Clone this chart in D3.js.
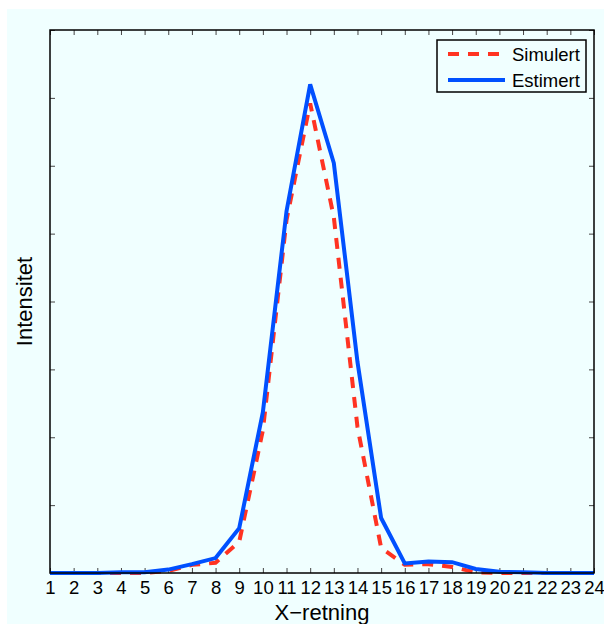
<!DOCTYPE html>
<html>
<head>
<meta charset="utf-8">
<script src="https://cdn.jsdelivr.net/npm/d3@7"></script>
<style>
  html, body { margin: 0; padding: 0; background: #ffffff; }
  svg { display: block; }
  text { font-family: "Liberation Sans", Arial, Helvetica, sans-serif; fill: #000; }
</style>
</head>
<body>
<svg id="chart" width="604" height="624"></svg>
<script>
// ---- data ----
const xValues = [1,2,3,4,5,6,7,8,9,10,11,12,13,14,15,16,17,18,19,20,21,22,23,24];
const simulert = [0,0,0,0,0,0.03,0.12,0.15,0.46,2.1,5.2,6.92,5.24,2.15,0.37,0.12,0.13,0.09,0.01,0,0,0,0,0];
const estimert = [0,0,0,0.01,0.01,0.05,0.13,0.22,0.66,2.37,5.33,7.2,6.04,3.11,0.81,0.14,0.17,0.16,0.06,0.02,0.01,0,0,0];
const xTickLabels = ["1","2","3","4","5","6","7","8","9","10","11","12","13","14","15","16","17","18","19","20","21","22","23","24"];
const yTicks = [0,1,2,3,4,5,6,7,8];
const seriesNames = ["Simulert","Estimert"];
const xLabel = "X\u2212retning";
const yLabel = "Intensitet";

// ---- layout ----
const W = 604, H = 624;
const plot = {left: 50, right: 594, top: 30, bottom: 573};
const svg = d3.select("#chart");

svg.append("rect").attr("x", 7).attr("y", 9).attr("width", W - 7).attr("height", H - 9).attr("fill", "#f0ffff");

const x = d3.scaleLinear().domain([1, 24]).range([plot.left, plot.right]);
const y = d3.scaleLinear().domain([0, 8]).range([plot.bottom, plot.top]);

const tickLen = 5;
const tickColor = "#444";

// bottom axis with labels (ticks inward)
const gb = svg.append("g").attr("transform", `translate(0,${plot.bottom})`)
  .call(d3.axisBottom(x).tickValues(xValues).tickFormat((d, i) => xTickLabels[i]).tickSizeInner(-tickLen).tickSizeOuter(0).tickPadding(10));
gb.select(".domain").remove();
gb.selectAll(".tick line").attr("stroke", tickColor).attr("stroke-width", 1);
gb.selectAll(".tick text").attr("font-size", 18.5).attr("dy", "0.62em").attr("y", 10);

// top axis ticks
const gt = svg.append("g").attr("transform", `translate(0,${plot.top})`)
  .call(d3.axisTop(x).tickValues(xValues).tickFormat("").tickSizeInner(-tickLen).tickSizeOuter(0));
gt.select(".domain").remove();
gt.selectAll(".tick line").attr("stroke", tickColor).attr("stroke-width", 1);

// left/right axis ticks (no labels)
const gl = svg.append("g").attr("transform", `translate(${plot.left},0)`)
  .call(d3.axisLeft(y).tickValues(yTicks).tickFormat("").tickSizeInner(-tickLen).tickSizeOuter(0));
gl.select(".domain").remove();
gl.selectAll(".tick line").attr("stroke", tickColor).attr("stroke-width", 1);
const gr = svg.append("g").attr("transform", `translate(${plot.right},0)`)
  .call(d3.axisRight(y).tickValues(yTicks).tickFormat("").tickSizeInner(-tickLen).tickSizeOuter(0));
gr.select(".domain").remove();
gr.selectAll(".tick line").attr("stroke", tickColor).attr("stroke-width", 1);

// lines
const line = d3.line().x((d, i) => x(xValues[i])).y(d => y(d));
svg.append("path").datum(simulert).attr("d", line)
  .attr("fill", "none").attr("stroke", "#ff3322").attr("stroke-width", 4)
  .attr("stroke-dasharray", "11,9").attr("stroke-linejoin", "miter");
svg.append("path").datum(estimert).attr("d", line)
  .attr("fill", "none").attr("stroke", "#0050ff").attr("stroke-width", 4)
  .attr("stroke-linejoin", "miter");

// border
svg.append("rect").attr("x", plot.left).attr("y", plot.top)
  .attr("width", plot.right - plot.left).attr("height", plot.bottom - plot.top)
  .attr("fill", "none").attr("stroke", "#000").attr("stroke-width", 1.5);

// legend
const lg = svg.append("g");
lg.append("rect").attr("x", 437).attr("y", 40).attr("width", 149).attr("height", 52)
  .attr("fill", "#f0ffff").attr("stroke", "#000").attr("stroke-width", 1.5);
const legendStyles = [
  {color: "#ff3322", dash: "11,9"},
  {color: "#0050ff", dash: null}
];
seriesNames.forEach((name, i) => {
  const cy = 54 + i * 26;
  const l = lg.append("line").attr("x1", 448).attr("x2", 505).attr("y1", cy).attr("y2", cy)
    .attr("stroke", legendStyles[i].color).attr("stroke-width", 4);
  if (legendStyles[i].dash) l.attr("stroke-dasharray", legendStyles[i].dash);
  lg.append("text").attr("x", 512).attr("y", cy).attr("dy", "0.36em")
    .attr("font-size", 18.5).text(name);
});

// axis labels
svg.append("text").attr("x", (plot.left + plot.right) / 2).attr("y", 620)
  .attr("text-anchor", "middle").attr("font-size", 22).text(xLabel);
svg.append("text").attr("transform", `translate(32,${(plot.top + plot.bottom) / 2}) rotate(-90)`)
  .attr("text-anchor", "middle").attr("font-size", 22).text(yLabel);
</script>
</body>
</html>
